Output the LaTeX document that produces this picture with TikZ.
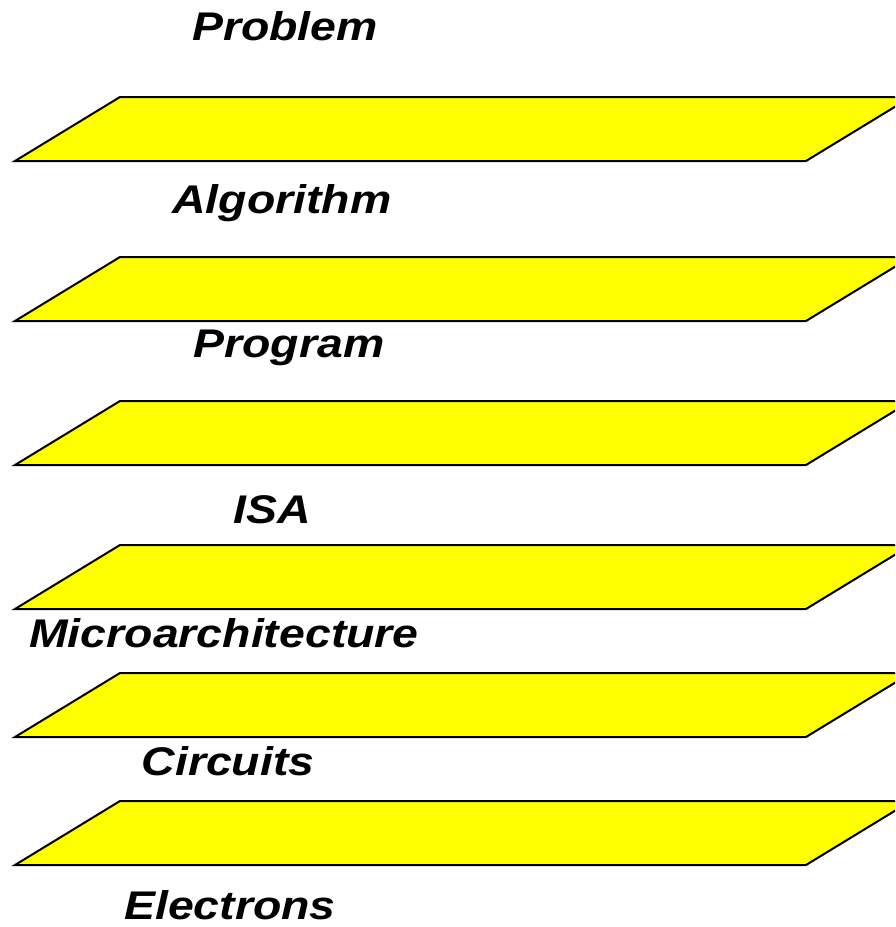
\documentclass[tikz,border=0pt]{standalone}
\usepackage{fontspec}
\setmainfont{Liberation Sans}
\usepackage{xcolor}
\usepackage{tikz}

\definecolor{planeyellow}{RGB}{255,255,0}

\begin{document}
\begin{tikzpicture}[x=1pt, y=-1pt,
     plate/.style={draw=black, fill=planeyellow, line width=2pt, line join=miter},
     layer/.style={anchor=base, inner sep=0pt, xscale=1.16, transform shape,
       font=\fontsize{40}{40}\selectfont\bfseries\itshape}]
     \useasboundingbox (0,0) rectangle (895,927);
     \clip (0,0) rectangle (895,927);

     % the stacked planes
     \draw[plate] (15,161) -- (120,97) -- (911,97) -- (806,161) -- cycle;
     \draw[plate] (15,321) -- (120,257) -- (911,257) -- (806,321) -- cycle;
     \draw[plate] (15,465) -- (120,401) -- (911,401) -- (806,465) -- cycle;
     \draw[plate] (15,609) -- (120,545) -- (911,545) -- (806,609) -- cycle;
     \draw[plate] (15,737) -- (120,673) -- (911,673) -- (806,737) -- cycle;
     \draw[plate] (15,865) -- (120,801) -- (911,801) -- (806,865) -- cycle;

     % level names
     \node[layer] (problem) at (285,40) {Problem};
     \node[layer] (algorithm) at (282,213) {Algorithm};
     \node[layer] (program) at (289,357) {Program};
     \node[layer] (isa) at (272,523) {ISA};
     \node[layer] (uarch) at (224,647) {Microarchitecture};
     \node[layer] (circuits) at (228,775) {Circuits};
     \node[layer] (electrons) at (230,919) {Electrons};
\end{tikzpicture}
\end{document}
